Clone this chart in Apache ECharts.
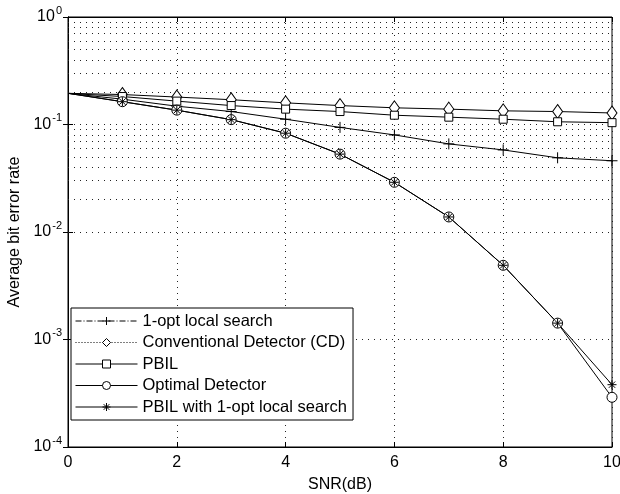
<!DOCTYPE html>
<html>
<head>
<meta charset="utf-8">
<script src="https://cdn.jsdelivr.net/npm/echarts@6/dist/echarts.min.js"></script>
<style>
  html, body { margin: 0; padding: 0; background: #fff; }
  #chart { width: 620px; height: 494px; }
</style>
</head>
<body>
<div id="chart"></div>
<script>
// SNR in dB
var snr = [0, 1, 2, 3, 4, 5, 6, 7, 8, 9, 10]
// average bit error rate per detector
var oneOpt = [0.195, 0.172, 0.148, 0.132, 0.112, 0.094, 0.080, 0.066, 0.058, 0.049, 0.046]
var conventional = [0.195, 0.19, 0.18, 0.17, 0.159, 0.15, 0.143, 0.139, 0.134, 0.132, 0.128]
var pbil = [0.195, 0.182, 0.165, 0.15, 0.139, 0.132, 0.122, 0.117, 0.112, 0.106, 0.104]
var optimal = [0.195, 0.163, 0.136, 0.111, 0.083, 0.053, 0.029, 0.0138, 0.0049, 0.00142, 0.00029]
var pbilLocal = [0.195, 0.163, 0.136, 0.111, 0.083, 0.053, 0.029, 0.0138, 0.0049, 0.00142, 0.00038]

var names = ['1-opt local search', 'Conventional Detector (CD)', 'PBIL', 'Optimal Detector', 'PBIL with 1-opt local search']
var decades = [-4, -3, -2, -1]

var font = 'Liberation Sans, Arial, Helvetica, sans-serif'
var plusPath = 'path://M0,5L10,5M5,0L5,10'
var starPath = 'path://M0,5L10,5M5,0L5,10M1.5,1.5L8.5,8.5M1.5,8.5L8.5,1.5'
var dotted = { color: '#222', type: [1, 5], width: 1 }

// minor log grid lines 2..9 in every decade
var minorGrid = []
decades.forEach(function (d) {
  for (var k = 2; k <= 9; k++) minorGrid.push({ yAxis: k * Math.pow(10, d) })
})

function pairs(ys) {
  return snr.map(function (x, i) {
    var p = { value: [x, ys[i]] }
    if (i === 0) p.symbol = 'none' // no marker at 0 dB
    return p
  })
}

function makeSeries(name, ys, symbol, size) {
  return {
    name: name,
    type: 'line',
    data: pairs(ys),
    symbol: symbol,
    symbolSize: size,
    showAllSymbol: true,
    clip: false,
    lineStyle: { color: '#000', width: 1 },
    itemStyle: { color: '#fff', borderColor: '#000', borderWidth: 1 },
    emphasis: { disabled: true },
    z: 3
  }
}

var series = [
  makeSeries(names[0], oneOpt, plusPath, 11),
  makeSeries(names[1], conventional, 'diamond', [10, 14]),
  makeSeries(names[2], pbil, 'rect', 8),
  makeSeries(names[3], optimal, 'circle', 10),
  makeSeries(names[4], pbilLocal, starPath, 9)
]
series[0].itemStyle.color = 'transparent'
series[4].itemStyle.color = 'transparent'
series[0].markLine = {
  silent: true,
  symbol: 'none',
  label: { show: false },
  lineStyle: dotted,
  data: minorGrid,
  z: 1
}

var chart = echarts.init(document.getElementById('chart'), null, { renderer: 'canvas' })
chart.setOption({
  backgroundColor: '#fff',
  animation: false,
  textStyle: { fontFamily: font, color: '#000' },
  grid: {
    left: 68, right: 8, top: 17, bottom: 47,
    outerBoundsMode: 'none',
    containLabel: false,
    show: true, borderColor: '#000', borderWidth: 1, backgroundColor: 'transparent'
  },
  legend: {
    orient: 'vertical',
    left: 71,
    top: 308,
    data: [
      { name: names[0], lineStyle: { type: [6, 2, 1, 2], width: 1 }, itemStyle: { borderWidth: 1 } },
      { name: names[1], lineStyle: { type: [1, 2], width: 1 }, itemStyle: { borderWidth: 1 } },
      { name: names[2], lineStyle: { width: 1 }, itemStyle: { borderWidth: 1 } },
      { name: names[3], lineStyle: { width: 1 }, itemStyle: { borderWidth: 1 } },
      { name: names[4], lineStyle: { width: 1 }, itemStyle: { borderWidth: 1 } }
    ],
    backgroundColor: '#fff',
    borderColor: '#000',
    borderWidth: 1,
    borderRadius: 0,
    padding: [4, 6, 4, 4],
    itemGap: 3.5,
    itemWidth: 62,
    itemHeight: 10,
    textStyle: { fontSize: 16.5, fontFamily: font, color: '#000', lineHeight: 18 },
    z: 10
  },
  xAxis: [{
    type: 'value',
    min: 0,
    max: 10,
    interval: 2,
    name: 'SNR(dB)',
    nameLocation: 'middle',
    nameGap: 30,
    nameTextStyle: { fontSize: 16, color: '#000', fontFamily: font },
    axisLine: { lineStyle: { color: '#000', width: 1 } },
    axisTick: { inside: true, length: 5, lineStyle: { color: '#000' } },
    axisLabel: { fontSize: 16, color: '#000', margin: 8, fontFamily: font },
    splitLine: { show: true, lineStyle: dotted }
  }, {
    type: 'value',
    position: 'top',
    min: 0,
    max: 10,
    interval: 2,
    axisLine: { lineStyle: { color: '#000' } },
    axisTick: { inside: true, length: 5, lineStyle: { color: '#000' } },
    axisLabel: { show: false },
    splitLine: { show: false }
  }],
  yAxis: [{
    type: 'log',
    logBase: 10,
    min: 1e-4,
    max: 1,
    name: 'Average bit error rate',
    nameLocation: 'middle',
    nameGap: 38,
    nameTextStyle: { fontSize: 16, color: '#000', fontFamily: font },
    axisLine: { lineStyle: { color: '#000', width: 1 } },
    axisTick: { inside: true, length: 5, lineStyle: { color: '#000' } },
    axisLabel: {
      margin: 6,
      formatter: function (v) {
        var e = Math.round(Math.log10(v))
        return '{b|10}{e|' + (e < 0 ? '-' + (-e) : e) + '}'
      },
      rich: {
        b: { fontSize: 16, color: '#000', fontFamily: font },
        e: { fontSize: 11, color: '#000', fontFamily: font, padding: [0, 0, 13, 1] }
      }
    },
    splitLine: { show: true, lineStyle: dotted }
  }, {
    type: 'log',
    logBase: 10,
    min: 1e-4,
    max: 1,
    position: 'right',
    axisLine: { lineStyle: { color: '#000' } },
    axisTick: { inside: true, length: 5, lineStyle: { color: '#000' } },
    axisLabel: { show: false },
    splitLine: { show: false }
  }],
  series: series
})
</script>
</body>
</html>
